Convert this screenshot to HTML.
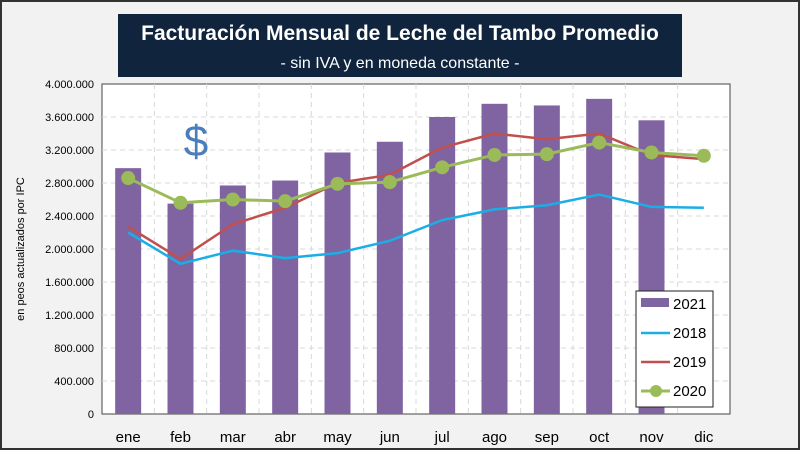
<!DOCTYPE html>
<html><head><meta charset="utf-8"><style>
body{margin:0;width:800px;height:450px;overflow:hidden;background:#fff;font-family:"Liberation Sans",sans-serif}
</style></head><body>
<svg width="800" height="450">
<rect x="1" y="1" width="798" height="448" fill="#f2f2f2" stroke="#333" stroke-width="2"/>
<rect x="118" y="14" width="564" height="63" fill="#10243e"/>
<text x="400" y="40" text-anchor="middle" fill="#fff" font-size="21" font-weight="bold">Facturación Mensual de Leche del Tambo Promedio</text>
<text x="400" y="68" text-anchor="middle" fill="#fff" font-size="16">- sin IVA y en moneda constante -</text>
<rect x="102" y="84" width="628" height="330" fill="#fff" stroke="#444" stroke-width="1"/>
<g id="grid"></g><g id="bars"></g><g id="lines"></g><g id="axes"></g>
<text x="196" y="156" text-anchor="middle" fill="#4a7ebb" font-size="44">$</text>
<text transform="translate(24,249) rotate(-90)" text-anchor="middle" font-size="11" fill="#000">en peos actualizados por IPC</text>
<g>
<rect x="636" y="291" width="77" height="116" fill="#fff" stroke="#222" stroke-width="1"/>
<rect x="641" y="298" width="28" height="9" fill="#8064a2"/>
<text x="673" y="309" font-size="15">2021</text>
<line x1="641" y1="333" x2="670" y2="333" stroke="#1aaee5" stroke-width="2.5"/>
<text x="673" y="338" font-size="15">2018</text>
<line x1="641" y1="362" x2="670" y2="362" stroke="#c0504d" stroke-width="2.5"/>
<text x="673" y="367" font-size="15">2019</text>
<line x1="641" y1="391" x2="670" y2="391" stroke="#9bbb59" stroke-width="3"/>
<circle cx="656" cy="391" r="6" fill="#9bbb59"/>
<text x="673" y="396" font-size="15">2020</text>
</g>
</svg>
<script>
const categories=["ene","feb","mar","abr","may","jun","jul","ago","sep","oct","nov","dic"];
const s2021=[2980000,2550000,2770000,2830000,3170000,3300000,3600000,3760000,3740000,3820000,3560000,null];
const s2018=[2200000,1820000,1980000,1890000,1950000,2100000,2350000,2480000,2530000,2660000,2510000,2500000];
const s2019=[2270000,1880000,2300000,2500000,2800000,2900000,3230000,3400000,3330000,3400000,3140000,3090000];
const s2020=[2860000,2560000,2600000,2580000,2790000,2810000,2990000,3140000,3150000,3290000,3170000,3130000];
const yTicks=[0,400000,800000,1200000,1600000,2000000,2400000,2800000,3200000,3600000,4000000];
const yTickLabels=["0","400.000","800.000","1.200.000","1.600.000","2.000.000","2.400.000","2.800.000","3.200.000","3.600.000","4.000.000"];
const NS="http://www.w3.org/2000/svg";
const X0=102,X1=730,Y0=414,Y1=84,YMAX=4000000;
const bw=(X1-X0)/categories.length;
const x=i=>X0+bw*(i+0.5);
const y=v=>Y0-(v/YMAX)*(Y0-Y1);
function mk(tag,attrs,parent){const e=document.createElementNS(NS,tag);for(const k in attrs)e.setAttribute(k,attrs[k]);document.getElementById(parent).appendChild(e);return e;}
yTicks.forEach((t,i)=>{
 if(t>0&&t<YMAX){const g=mk('line',{x1:X0,x2:X1,y1:y(t),y2:y(t),stroke:'#d9d9d9','stroke-dasharray':'5,4'},'grid');
 
 }
 const l=mk('text',{x:X0-8,y:y(t)+4,'text-anchor':'end','font-size':'11'},'axes');l.textContent=yTickLabels[i];
 
 
});
categories.forEach((c,i)=>{
 if(i>0){const g=mk('line',{x1:X0+bw*i,x2:X0+bw*i,y1:Y1,y2:Y0,stroke:'#d9d9d9','stroke-dasharray':'5,4'},'grid');
 
 }
 const l=mk('text',{x:x(i),y:442,'text-anchor':'middle','font-size':'15'},'axes');l.textContent=c;
 
 
 if(s2021[i]!=null){const b=mk('rect',{x:x(i)-13,y:y(s2021[i]),width:26,height:Y0-y(s2021[i]),fill:'#8064a2'},'bars');
 
 }
});
function line(data,color,w,name){const p=mk('polyline',{points:data.map((v,i)=>x(i)+','+y(v)).join(' '),fill:'none',stroke:color,'stroke-width':w,'stroke-linejoin':'round'},'lines');
 
 }
line(s2018,'#1aaee5',2.5,'line-2018');
line(s2019,'#c0504d',2.5,'line-2019');
line(s2020,'#9bbb59',3,'line-2020');
s2020.forEach((v,i)=>{const c=mk('circle',{cx:x(i),cy:y(v),r:7,fill:'#9bbb59'},'lines');
 
 });
</script>
</body></html>
